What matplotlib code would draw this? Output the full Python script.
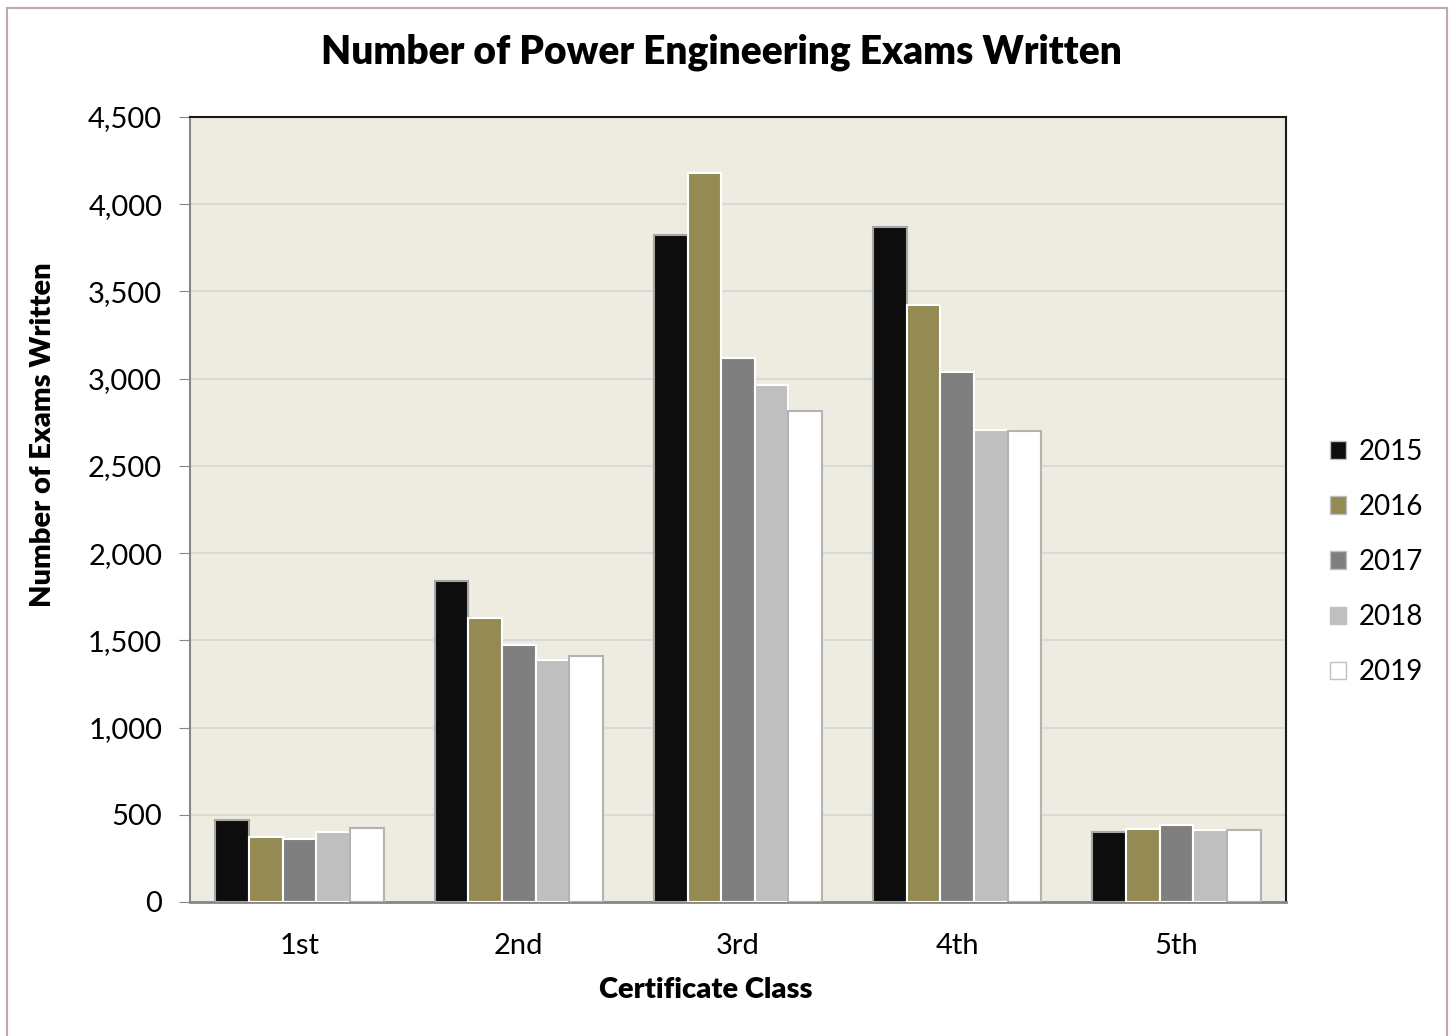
import matplotlib.pyplot as plt
import numpy as np
from matplotlib.patches import Rectangle

# data
classes = ['1st', '2nd', '3rd', '4th', '5th']
years = ['2015', '2016', '2017', '2018', '2019']
v2015 = [470, 1842, 3824, 3868, 403]
v2016 = [374, 1630, 4177, 3421, 420]
v2017 = [361, 1473, 3120, 3037, 440]
v2018 = [403, 1387, 2964, 2708, 414]
v2019 = [422, 1412, 2817, 2698, 411]
series = [v2015, v2016, v2017, v2018, v2019]

colors = ['#0d0d0d', '#948a54', '#7f7f7f', '#bfbfbf', '#ffffff']
edges = ['#a6a6a6', '#ffffff', '#ffffff', '#ffffff', '#b3b3b3']

plt.rcParams['font.family'] = ['Lato', 'DejaVu Sans']

W, H = 1450, 1036
fig = plt.figure(figsize=(14.5, 10.36), dpi=100)
ax = fig.add_axes([190/W, 1-902/H, (1286-190)/W, (902-117)/H])

# outer chart border
fig.patches.append(Rectangle((7/W, -0.01), 1440/W, 1.0 - 8/H + 0.01,
                             transform=fig.transFigure, fill=False,
                             edgecolor='#bfa8ac', linewidth=1.5))

x = np.arange(len(classes))
w = 0.1535
for i, vals in enumerate(series):
    ax.bar(x + (i - 2) * w, vals, w, color=colors[i], edgecolor=edges[i],
           linewidth=1.5, label=years[i], zorder=3)

ax.set_facecolor('#eeebe0')
ax.set_xlim(-0.5, 4.5)
ax.set_ylim(0, 4500)
ax.set_yticks(range(0, 4501, 500))
ax.set_yticklabels(['{:,}'.format(t) for t in range(0, 4501, 500)], fontsize=21)
ax.set_xticks(x)
ax.set_xticklabels(classes, fontsize=21)
ax.tick_params(axis='x', length=0, pad=22)
ax.tick_params(axis='y', length=8, color='#868686', pad=12)
ax.grid(axis='y', color='#d9d9d9', linewidth=1.5, zorder=0)

ax.spines['left'].set_color('#868686')
ax.spines['bottom'].set_color('#868686')
ax.spines['left'].set_linewidth(1.5)
ax.spines['bottom'].set_linewidth(2)
ax.spines['top'].set_color('#1a1a1a')
ax.spines['right'].set_color('#1a1a1a')
ax.spines['top'].set_linewidth(1.5)
ax.spines['right'].set_linewidth(1.5)

fig.text(721/W, 1-52/H, 'Number of Power Engineering Exams Written', fontsize=28,
         fontweight='heavy', ha='center', va='center')
ax.set_xlabel('Certificate Class', fontsize=21, fontweight='heavy')
ax.xaxis.set_label_coords((706-190)/1096, (902-990)/785)
ax.xaxis.label.set_va('center')
ax.set_ylabel('Number of Exams Written', fontsize=21, fontweight='heavy')
ax.yaxis.set_label_coords((43-190)/1096, (902-435)/785)
ax.yaxis.label.set_va('center')

leg = ax.legend(loc='center left', bbox_to_anchor=(1.017, (902-562)/785), frameon=False,
                fontsize=20, handlelength=0.6, handleheight=0.6,
                handletextpad=0.45, labelspacing=1.05)
for h in leg.legend_handles:
    h.set_edgecolor('#bfbfbf')
    h.set_linewidth(1.0)

fig.savefig('out.png', dpi=100)
